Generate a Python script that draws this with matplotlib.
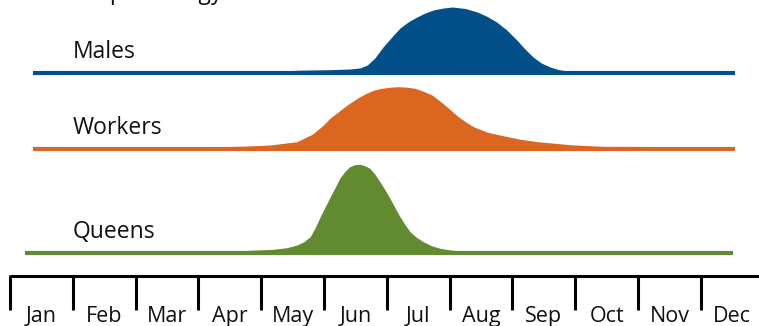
import matplotlib
matplotlib.use("Agg")
import matplotlib.pyplot as plt

plt.rcParams['font.family'] = ['Open Sans', 'DejaVu Sans']

months = ["Jan", "Feb", "Mar", "Apr", "May", "Jun", "Jul", "Aug", "Sep", "Oct", "Nov", "Dec"]
series_names = ["Males", "Workers", "Queens"]

# positions in months (0 = start of Jan), relative activity heights
males_x = [0.37, 4.30, 4.62, 5.10, 5.41, 5.57, 5.69, 5.81, 5.94, 6.08, 6.21, 6.35, 6.48, 6.61, 6.74,
           6.90, 7.05, 7.25, 7.44, 7.60, 7.75, 7.91, 8.07, 8.20, 8.33, 8.46, 8.60, 8.73, 8.87, 11.54]
males_y = [0, 0, 0.8, 1.3, 2, 3, 6, 13, 24, 34, 43, 49.5, 54, 58, 61,
           63, 64, 62.5, 59, 54.5, 49, 41, 31, 22, 14, 8, 4, 1.5, 0, 0]

workers_x = [0.37, 3.34, 3.75, 4.14, 4.57, 4.82, 4.98, 5.10, 5.25, 5.37, 5.52, 5.65, 5.79, 5.92, 6.05,
             6.18, 6.32, 6.45, 6.58, 6.72, 6.85, 6.98, 7.12, 7.25, 7.38, 7.60, 7.85, 8.12, 8.40,
             8.92, 9.45, 11.54]
workers_y = [0, 0, 0.6, 1.7, 5, 12.7, 21, 28.7, 36, 41.7, 48, 52.7, 56.5, 58.4, 59.5,
             60, 59.5, 58.4, 55.5, 51.7, 45.5, 38.7, 31, 25, 20, 14.5, 11, 7.5, 5,
             2, 0.3, 0]

queens_x = [0.24, 3.66, 4.19, 4.41, 4.57, 4.68, 4.78, 4.86, 4.94, 5.02, 5.10, 5.18, 5.25, 5.33, 5.41,
            5.49, 5.57, 5.65, 5.73, 5.81, 5.89, 5.97, 6.05, 6.13, 6.21, 6.29, 6.37, 6.47, 6.58,
            6.71, 6.85, 6.98, 7.12, 11.51]
queens_y = [0, 0, 1.4, 3, 5.7, 9, 14, 23, 34, 44, 54, 63.5, 72.4, 79, 84,
            86, 86.4, 85, 82.4, 76.5, 69, 61, 52.4, 43, 34, 26, 19, 13.5, 9,
            5, 2.4, 1, 0, 0]

colors = ["#034F8A", "#DB6620", "#628B31"]

W, H = 759, 326
fig = plt.figure(figsize=(W / 100, H / 100), dpi=100)
ax = fig.add_axes([0, 0, 1, 1])
px = 62.8  # pixels per month
x0 = 10
ax.set_xlim(-x0 / px, (W - x0) / px)
ax.set_ylim(0, H)
ax.axis("off")

# layout (pixel rows from the top): fill base, line centre, label baseline
fill_base = [255.0, 179.3, 75.3]
line_ctr = [253.0, 177.3, 73.5]
label_base = [267.7, 192.0, 88.0]

data = [(males_x, males_y), (workers_x, workers_y), (queens_x, queens_y)]
for (xs, ys), c, fb, lc, lb, name in zip(data, colors, fill_base, line_ctr, label_base, series_names):
    ax.fill_between(xs, fb, [fb + v for v in ys], color=c, lw=0, zorder=2)
    ax.plot([xs[0], xs[-1]], [lc, lc], color=c, lw=3.0, solid_capstyle="butt", zorder=3)
    ax.text(1.0, lb, name, fontsize=16.5, color="#111111", ha="left", va="baseline")

# month axis
axis_y = 50
ax.plot([0, 12.2], [axis_y, axis_y], color="black", lw=2.2, solid_capstyle="butt", zorder=4)
for i in range(13):
    ax.plot([i, i], [axis_y + 1, axis_y - 34], color="black", lw=2.2, solid_capstyle="butt", zorder=4)
for i, m in enumerate(months):
    ax.text(i + 0.5, 4, m, fontsize=15.5, color="#111111", ha="center", va="baseline")

# title mostly cut off at the top edge
ax.text(0.55, H + 1, "Caste phenology", fontsize=16.5, color="#111111", ha="left", va="baseline")

fig.savefig("out.png", dpi=100)
